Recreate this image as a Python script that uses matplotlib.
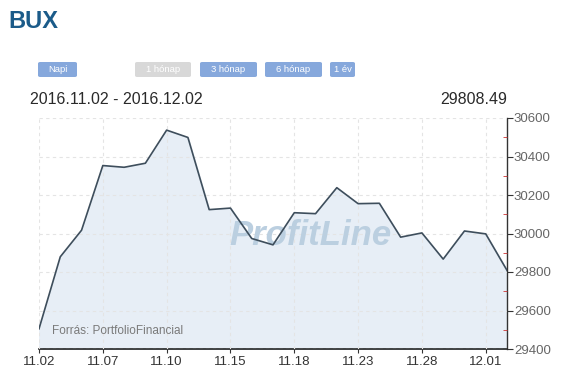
#BUX index, 2016.11.02 - 2016.12.02
import matplotlib
matplotlib.use('Agg')
import matplotlib.pyplot as plt
from matplotlib.patches import FancyBboxPatch
from matplotlib.ticker import MultipleLocator

plt.rcParams['font.family'] = ['Liberation Sans', 'DejaVu Sans']

dates = ['11.02', '11.03', '11.04', '11.07', '11.08', '11.09', '11.10', '11.11',
         '11.14', '11.15', '11.16', '11.17', '11.18', '11.21', '11.22', '11.23',
         '11.24', '11.25', '11.28', '11.29', '11.30', '12.01', '12.02']
values = [29505, 29879, 30017, 30353, 30344, 30365, 30537, 30499,
          30124, 30132, 29974, 29941, 30108, 30103, 30238, 30155,
          30157, 29981, 30003, 29867, 30013, 29998, 29808.49]
label_dates = ['11.02', '11.07', '11.10', '11.15', '11.18', '11.23', '11.28', '12.01']
buttons = ['Napi', '1 hónap', '3 hónap', '6 hónap', '1 év']

W, H = 566, 370
fig = plt.figure(figsize=(W / 100, H / 100), dpi=100)
fig.patch.set_facecolor('white')

def fx(x):
    return x / W

def fy(y):
    return 1 - y / H

# plot area in pixels: x 39..507, y 118..349
ax = fig.add_axes([fx(39), fy(349), fx(507) - fx(39), fy(118) - fy(349)])
x = list(range(len(values)))
ax.fill_between(x, values, 29400, color='#e7eef6', zorder=1)
ax.plot(x, values, color='#3e4e5c', lw=1.2, zorder=4)
ax.set_xlim(0, len(values) - 1)
ax.set_ylim(29400, 30600)

ax.set_xticks([dates.index(d) for d in label_dates])
ax.set_xticklabels(label_dates)
ax.yaxis.tick_right()
ax.set_yticks(range(29400, 30601, 200))
ax.yaxis.set_minor_locator(MultipleLocator(100))
ax.tick_params(axis='y', which='major', direction='out', length=4, color='#333333',
               labelsize=9.5, labelcolor='#666666', pad=1)
ax.tick_params(axis='y', which='minor', direction='in', length=3, color='#cc3333')
ax.tick_params(axis='x', direction='out', length=3, color='#333333',
               labelsize=9.5, labelcolor='#333333', pad=2)
ax.grid(True, which='major', color='#e4e4e4', ls=(0, (3, 3)), lw=0.8)
ax.set_axisbelow(False)
for s in ['top', 'left']:
    ax.spines[s].set_visible(False)
ax.spines['bottom'].set_color('#222222')
ax.spines['right'].set_color('#333333')
ax.spines['bottom'].set_linewidth(1.2)
ax.spines['right'].set_linewidth(1.0)

# watermark and source
ax.text(0.58, 0.49, 'ProfitLine', transform=ax.transAxes, ha='center', va='center',
        fontsize=25, fontweight='bold', style='italic', color='#bbcfe0', zorder=3)
ax.text(0.028, 0.065, 'Forrás: PortfolioFinancial', transform=ax.transAxes,
        fontsize=8.5, color='#7a7a7a', zorder=5)

# header
fig.text(fx(8), fy(21), 'BUX', fontsize=17, fontweight='bold', color='#1b5b89', va='center')
fig.text(fx(30), fy(99), '2016.11.02 - 2016.12.02', fontsize=11.5, color='#2a2a2a', va='center')
fig.text(fx(507), fy(99), '29808.49', fontsize=11.5, color='#2a2a2a', va='center', ha='right')

# buttons
spans = [(38, 77), (135, 191), (200, 257), (265, 322), (330, 355)]
for name, (x0, x1) in zip(buttons, spans):
    c = '#d8d8d8' if name == '1 hónap' else '#86a8dc'
    fig.patches.append(FancyBboxPatch((fx(x0), fy(77)), fx(x1 - x0), fy(62) - fy(77),
                                      boxstyle='round,pad=0,rounding_size=0.004',
                                      transform=fig.transFigure, facecolor=c, edgecolor='none'))
    fig.text(fx((x0 + x1) / 2), fy(69.5), name, fontsize=6.8, color='white',
             ha='center', va='center')

plt.savefig('out.png', dpi=100)
